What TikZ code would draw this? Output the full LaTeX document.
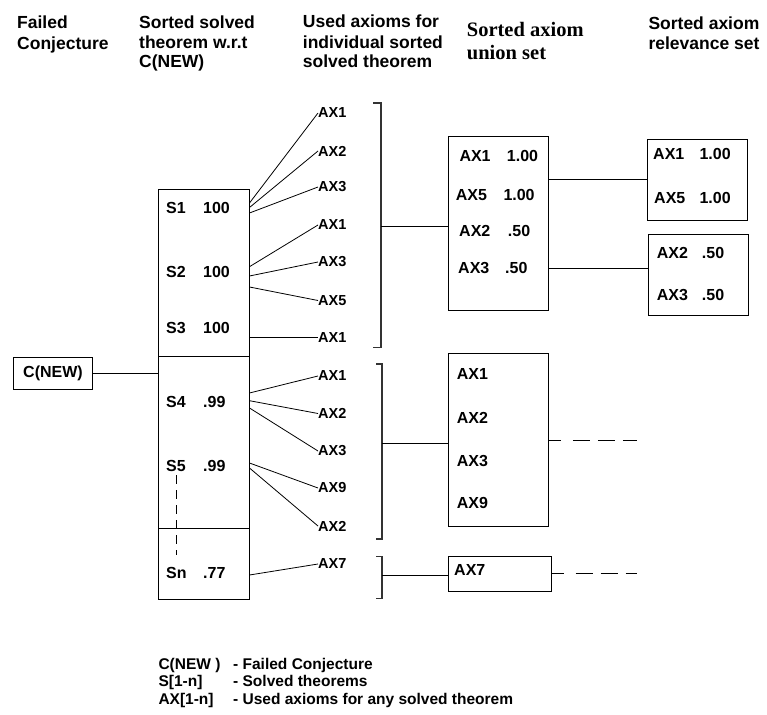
\documentclass[tikz,border=0pt]{standalone}
\usepackage{fontspec}
\setmainfont{Liberation Sans}
\newfontfamily\hdserif{Liberation Serif}
\begin{document}
\begin{tikzpicture}[x=1pt,y=-1pt,
  hd/.style={anchor=base west,inner sep=0,font=\fontsize{17.5}{20}\selectfont\bfseries},
  hds/.style={anchor=base west,inner sep=0,font=\fontsize{20.5}{24}\selectfont\hdserif\bfseries},
  box/.style={draw,line width=1pt,inner sep=0,rectangle},
  sl/.style={anchor=west,inner sep=0,font=\fontsize{16}{19}\selectfont\bfseries},
  ax/.style={anchor=west,inner sep=0,font=\fontsize{14.5}{17}\selectfont\bfseries},
  lg/.style={anchor=base west,inner sep=0,font=\fontsize{15.5}{18}\selectfont\bfseries},
  conn/.style={line width=0.8pt},
  brk/.style={line width=1.3pt,black!80},
  dsh/.style={line width=0.9pt,dash pattern=on 12pt off 12pt on 17pt off 8pt on 17pt off 8pt on 16pt off 20pt}]
\useasboundingbox (0,0) rectangle (767,714);

% headers
\node[hd] (h1a) at (17,29) {Failed};
\node[hd] (h1b) at (17,49.5) {Conjecture};
\node[hd] (h2a) at (139,29) {Sorted solved};
\node[hd] (h2b) at (139,49) {theorem w.r.t};
\node[hd] (h2c) at (139,68) {C(NEW)};
\node[hd] (h3a) at (302.7,28) {Used axioms for};
\node[hd] (h3b) at (302.7,49) {individual sorted};
\node[hd] (h3c) at (302.7,68) {solved theorem};
\node[hds] (h4a) at (466.7,36.7) {Sorted axiom};
\node[hds] (h4b) at (466.7,60) {union set};
\node[hd] (h5a) at (648.3,30) {Sorted axiom};
\node[hd] (h5b) at (648.3,50) {relevance set};

% failed conjecture
\node[box,minimum width=79.4pt,minimum height=32pt,font=\fontsize{16}{19}\selectfont\bfseries] (cnew) at (53,373.3) {C(NEW)};

% main box
\node[box,minimum width=90.7pt,minimum height=410pt] (mainbox) at (203.65,394) {};
\draw[line width=1pt] (158.3,356) -- (249,356);
\draw[line width=1pt] (158.3,528) -- (249,528);
\draw[conn] (cnew.east) -- (cnew.east -| mainbox.west);

\node[sl] (s1) at (166,207.7) {S1};  \node[sl] (v1) at (203,207.7) {100};
\node[sl] (s2) at (166,271.7) {S2};  \node[sl] (v2) at (203,271.7) {100};
\node[sl] (s3) at (166,328.3) {S3};  \node[sl] (v3) at (203,328.3) {100};
\node[sl] (s4) at (166,401.7) {S4};  \node[sl] (v4) at (203,401.7) {.99};
\node[sl] (s5) at (166,466) {S5};    \node[sl] (v5) at (203,466) {.99};
\node[sl] (sn) at (166,573) {Sn};    \node[sl] (vn) at (203,573) {.77};
\draw[line width=0.9pt,dash pattern=on 9pt off 6pt] (176,475) -- (176,555);

% axiom labels
\node[ax] (a1) at (318,113) {AX1};
\node[ax] (a2) at (318,151) {AX2};
\node[ax] (a3) at (318,187) {AX3};
\node[ax] (a4) at (318,225) {AX1};
\node[ax] (a5) at (318,262) {AX3};
\node[ax] (a6) at (318,300.5) {AX5};
\node[ax] (a7) at (318,337.5) {AX1};
\node[ax] (a8) at (318,376) {AX1};
\node[ax] (a9) at (318,413.5) {AX2};
\node[ax] (a10) at (318,451) {AX3};
\node[ax] (a11) at (318,488) {AX9};
\node[ax] (a12) at (318,526) {AX2};
\node[ax] (a13) at (318,564) {AX7};

\draw[conn] (mainbox.east |- 0,203) -- (a1.west);
\draw[conn] (mainbox.east |- 0,207.5) -- (a2.west);
\draw[conn] (mainbox.east |- 0,213) -- (a3.west);
\draw[conn] (mainbox.east |- 0,266.7) -- (a4.west);
\draw[conn] (mainbox.east |- 0,276) -- (a5.west);
\draw[conn] (mainbox.east |- 0,287) -- (a6.west);
\draw[conn] (mainbox.east |- a7.west) -- (a7.west);
\draw[conn] (mainbox.east |- 0,393) -- (a8.west);
\draw[conn] (mainbox.east |- 0,400.7) -- (a9.west);
\draw[conn] (mainbox.east |- 0,408) -- (a10.west);
\draw[conn] (mainbox.east |- 0,463) -- (a11.west);
\draw[conn] (mainbox.east |- 0,468) -- (a12.west);
\draw[conn] (mainbox.east |- 0,575) -- (a13.west);

% brackets
\draw[brk] (373,103) -- (381,103) -- (381,347.5) -- (373,347.5);
\draw[brk] (376,364) -- (382,364) -- (382,539) -- (376,539);
\draw[brk] (376,556.7) -- (382,556.7) -- (382,598.5) -- (376,598.5);
\coordinate (b1) at (381,226.5);
\coordinate (b2) at (382,443.3);
\coordinate (b3) at (382,575);

% union boxes
\node[box,minimum width=100pt,minimum height=173.3pt] (u1) at (498.3,223.35) {};
\node[box,minimum width=100pt,minimum height=173.4pt] (u2) at (498.3,440) {};
\node[box,minimum width=102.7pt,minimum height=34.3pt] (u3) at (499.65,573.85) {};
\draw[conn] (b1) -- (b1 -| u1.west);
\draw[conn] (b2) -- (b2 -| u2.west);
\draw[conn] (b3) -- (b3 -| u3.west);

\node[sl] (u1a) at (459.3,156) {AX1}; \node[sl] (u1av) at (506.7,156) {1.00};
\node[sl] (u1b) at (455.7,195) {AX5}; \node[sl] (u1bv) at (503.3,195) {1.00};
\node[sl] (u1c) at (459,231) {AX2};   \node[sl] (u1cv) at (507.7,231) {.50};
\node[sl] (u1d) at (458,267.7) {AX3}; \node[sl] (u1dv) at (505,267.7) {.50};

\node[sl] (u2a) at (456.7,374.3) {AX1};
\node[sl] (u2b) at (456.7,418.3) {AX2};
\node[sl] (u2c) at (456.7,460.7) {AX3};
\node[sl] (u2d) at (456.7,503.3) {AX9};
\node[sl] (u3a) at (454,570) {AX7};

% relevance boxes
\node[box,minimum width=100pt,minimum height=80.7pt] (r1) at (697.3,179.65) {};
\node[box,minimum width=100pt,minimum height=81.4pt] (r2) at (698.3,275) {};
\node[sl] (r1a) at (653,154.3) {AX1}; \node[sl] (r1av) at (699.3,154.3) {1.00};
\node[sl] (r1b) at (654,197.7) {AX5}; \node[sl] (r1bv) at (699.3,197.7) {1.00};
\node[sl] (r2a) at (656.7,252.7) {AX2}; \node[sl] (r2av) at (701.7,252.7) {.50};
\node[sl] (r2b) at (656.7,295) {AX3};   \node[sl] (r2bv) at (701.7,295) {.50};

\draw[conn] (u1.east |- r1.west) -- (r1.west);
\draw[conn] (u1.east |- 0,268.3) -- (r2.west |- 0,268.3);

% dashed continuations
\coordinate (d2) at (636.7,440);
\coordinate (d3) at (636.7,573.85);
\draw[dsh] (u2.east) -- (d2);
\draw[dsh] (u3.east) -- (d3);

% legend
\node[lg] (l1a) at (158.3,669) {C(NEW )};
\node[lg] (l1b) at (233,669) {- Failed Conjecture};
\node[lg] (l2a) at (158.3,686.5) {S[1-n]};
\node[lg] (l2b) at (233,686.5) {- Solved theorems};
\node[lg] (l3a) at (158.3,704) {AX[1-n]};
\node[lg] (l3b) at (233,704) {- Used axioms for any solved theorem};
\end{tikzpicture}
\end{document}
